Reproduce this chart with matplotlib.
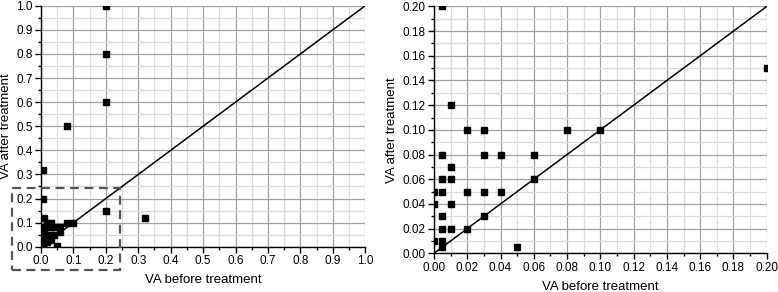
import matplotlib.pyplot as plt
from matplotlib.patches import Rectangle
from matplotlib.ticker import MultipleLocator

plt.rcParams["font.family"] = ["Liberation Sans", "DejaVu Sans"]

# VA before / after treatment, one point per eye
va_before = [0.2, 0.2, 0.2, 0.08, 0.005, 0.005, 0.2, 0.32,
             0.01, 0.02, 0.03, 0.08, 0.10,
             0.005, 0.03, 0.04, 0.06,
             0.01, 0.005, 0.01, 0.06,
             0.0, 0.005, 0.02, 0.03, 0.04,
             0.0, 0.01, 0.005, 0.03,
             0.005, 0.01, 0.02, 0.0, 0.005,
             0.005, 0.05]
va_after = [1.0, 0.8, 0.6, 0.5, 0.32, 0.2, 0.15, 0.12,
            0.12, 0.10, 0.10, 0.10, 0.10,
            0.08, 0.08, 0.08, 0.08,
            0.07, 0.06, 0.06, 0.06,
            0.05, 0.05, 0.05, 0.05, 0.05,
            0.04, 0.04, 0.03, 0.03,
            0.02, 0.02, 0.02, 0.01, 0.01,
            0.005, 0.005]

panels = [
  # (axes rect, limit, major step, minor step, tick format)
  ([0.0527, 0.155, 0.4168, 0.8255], 1.0, 0.1, 0.05, "%.1f"),
  ([0.5578, 0.1325, 0.4277, 0.8455], 0.2, 0.02, 0.01, "%.2f"),
]

fig = plt.figure(figsize=(7.78, 2.92), dpi=100)

for i, (rect, lim, major, minor, fmt) in enumerate(panels):
  ax = fig.add_axes(rect)
  ax.set_xlim(0, lim)
  ax.set_ylim(0, lim)
  ax.xaxis.set_major_locator(MultipleLocator(major))
  ax.yaxis.set_major_locator(MultipleLocator(major))
  ax.xaxis.set_minor_locator(MultipleLocator(minor))
  ax.yaxis.set_minor_locator(MultipleLocator(minor))
  ax.xaxis.set_major_formatter(plt.FormatStrFormatter(fmt))
  ax.yaxis.set_major_formatter(plt.FormatStrFormatter(fmt))
  ax.grid(which="major", color="#a0a0a0", lw=0.9)
  ax.grid(which="minor", color="#dcdcdc", lw=0.9)
  ax.set_axisbelow(True)
  for s in ("top", "right"):
    ax.spines[s].set_visible(False)
  for s in ("left", "bottom"):
    ax.spines[s].set_linewidth(1.0)
  ax.tick_params(which="major", direction="out", length=4, width=1,
                 labelsize=8.5, pad=2)
  ax.tick_params(which="minor", direction="out", length=2.5, width=1)

  ax.plot([0, lim], [0, lim], color="black", lw=1.1, zorder=3)
  ax.plot(va_before, va_after, ls="none", marker="s", ms=4.2,
          color="black", zorder=4)

  ax.set_xlabel("VA before treatment", fontsize=9.5, labelpad=5)
  ax.set_ylabel("VA after treatment", fontsize=9.5, labelpad=3)

  if i == 0:
    ax.add_patch(Rectangle((-0.09, -0.097), 0.334, 0.342, fill=False,
                           ls=(0, (4, 2.5)), lw=1.6, color="#555555",
                           clip_on=False, zorder=5))

fig.savefig("out.png", dpi=100)
